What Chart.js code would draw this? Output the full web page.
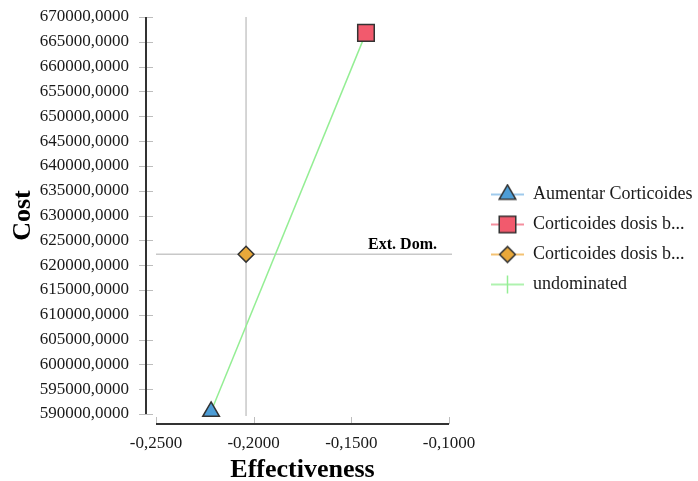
<!DOCTYPE html>
<html>
<head>
<meta charset="utf-8">
<script src="https://cdn.jsdelivr.net/npm/chart.js@4.4.0/dist/chart.umd.min.js"></script>
<style>
  html, body { margin: 0; padding: 0; background: #fff; }
</style>
</head>
<body>
<canvas id="ceChart" width="698" height="481"></canvas>
<script>
// strategies (legend names as shown, truncated in the original)
const strategyNames = ['Aumentar Corticoides', 'Corticoides dosis b...', 'Corticoides dosis b...'];
const effectiveness = [-0.2218, -0.1425, -0.2039];
const cost = [590500, 666800, 622200];
const undominatedPath = [0, 1];
const extDomIndex = 2;
const xTickValues = [-0.25, -0.2, -0.15, -0.1];
const yTickValues = [590000, 595000, 600000, 605000, 610000, 615000, 620000, 625000, 630000,
  635000, 640000, 645000, 650000, 655000, 660000, 665000, 670000];

const markerStyles = ['triangle', 'rect', 'rectRot'];
const markerSizes = [9.6, 11.7, 7.9];
const fillColors = ['#4d9dd6', '#f25a6d', '#e9a83a'];
const lineColors = ['#7fb8e6', '#f26a7e', '#f0ae45'];
const green = '#94ee94';
const edge = '#333333';
const serif = "'Liberation Serif', 'Times New Roman', serif";

function fmt(v) {
  return v.toFixed(4).replace('.', ',');
}

// small canvas used as legend symbol: line + marker
function legendIcon(style, r, fill, lineCol) {
  const c = document.createElement('canvas');
  c.width = 63;
  c.height = 22;
  const ctx = c.getContext('2d');
  const cx = 46.5, cy = 11;
  ctx.strokeStyle = lineCol;
  ctx.lineWidth = 1.5;
  ctx.beginPath();
  ctx.moveTo(30, cy);
  ctx.lineTo(63, cy);
  ctx.stroke();
  ctx.beginPath();
  if (style === 'triangle') {
    ctx.moveTo(cx, cy - r);
    ctx.lineTo(cx + 0.866 * r, cy + 0.5 * r);
    ctx.lineTo(cx - 0.866 * r, cy + 0.5 * r);
    ctx.closePath();
  } else if (style === 'rect') {
    const s = Math.SQRT1_2 * r;
    ctx.rect(cx - s, cy - s, 2 * s, 2 * s);
  } else if (style === 'rectRot') {
    ctx.moveTo(cx, cy - r);
    ctx.lineTo(cx + r, cy);
    ctx.lineTo(cx, cy + r);
    ctx.lineTo(cx - r, cy);
    ctx.closePath();
  } else {
    ctx.moveTo(cx, cy - 9);
    ctx.lineTo(cx, cy + 9);
    ctx.stroke();
    return c;
  }
  ctx.fillStyle = fill;
  ctx.fill();
  ctx.strokeStyle = edge;
  ctx.lineWidth = 1.5;
  ctx.stroke();
  return c;
}

const legendIcons = markerStyles.map((s, i) => legendIcon(s, markerSizes[i], fillColors[i], lineColors[i]));
legendIcons.push(legendIcon('cross', 0, green, green));

// datasets
const datasets = strategyNames.map((name, i) => ({
  label: name,
  data: [{x: effectiveness[i], y: cost[i]}],
  pointStyle: markerStyles[i],
  pointRadius: markerSizes[i],
  pointBackgroundColor: fillColors[i],
  pointBorderColor: edge,
  pointBorderWidth: 1.5,
  borderColor: lineColors[i],
  showLine: false,
  clip: false
}));
datasets.push({
  label: 'undominated',
  data: undominatedPath.map(i => ({x: effectiveness[i], y: cost[i]})),
  borderColor: green,
  borderWidth: 1.5,
  pointRadius: 0,
  showLine: true,
  clip: false
});

// grey lines through the extendedly dominated strategy
const extDomLines = {
  id: 'extDomLines',
  beforeDatasetsDraw(chart) {
    const {ctx, chartArea: a, scales: {x, y}} = chart;
    const px = x.getPixelForValue(effectiveness[extDomIndex]);
    const py = y.getPixelForValue(cost[extDomIndex]);
    ctx.save();
    ctx.strokeStyle = '#c8c8c8';
    ctx.lineWidth = 1.5;
    ctx.beginPath();
    ctx.moveTo(a.left, py);
    ctx.lineTo(a.right + 3, py);
    ctx.moveTo(px, a.top);
    ctx.lineTo(px, a.bottom + 2);
    ctx.stroke();
    ctx.fillStyle = '#000';
    ctx.font = 'bold 16px ' + serif;
    ctx.textAlign = 'right';
    ctx.textBaseline = 'alphabetic';
    ctx.fillText('Ext. Dom.', a.right - 12, py - 5);
    ctx.restore();
  }
};

// axis lines sit a bit away from the plot area
const offsetAxes = {
  id: 'offsetAxes',
  afterDraw(chart) {
    const {ctx, chartArea: a, scales: {x, y}} = chart;
    ctx.save();
    ctx.strokeStyle = '#bdbdbd';
    ctx.lineWidth = 1;
    ctx.beginPath();
    y.ticks.forEach(t => {
      const py = Math.round(y.getPixelForValue(t.value)) + 0.5;
      ctx.moveTo(a.left - 17, py);
      ctx.lineTo(a.left - 3, py);
    });
    x.ticks.forEach(t => {
      const px = Math.round(x.getPixelForValue(t.value)) + 0.5;
      ctx.moveTo(px, a.bottom + 3);
      ctx.lineTo(px, a.bottom + 10);
    });
    ctx.stroke();
    ctx.strokeStyle = edge;
    ctx.lineWidth = 2;
    ctx.beginPath();
    ctx.moveTo(a.left - 10, a.top);
    ctx.lineTo(a.left - 10, a.bottom);
    ctx.moveTo(a.left, a.bottom + 10);
    ctx.lineTo(a.right, a.bottom + 10);
    ctx.stroke();
    ctx.restore();
  }
};

Chart.defaults.font.family = serif;
Chart.defaults.color = '#1a1a1a';

const ceChart = new Chart(document.getElementById('ceChart'), {
  type: 'scatter',
  data: { datasets: datasets },
  options: {
    responsive: false,
    animation: false,
    devicePixelRatio: 1,
    events: [],
    layout: { padding: { top: 17, right: 0, bottom: 0, left: 0 } },
    scales: {
      x: {
        type: 'linear',
        min: -0.25,
        max: -0.1,
        afterBuildTicks: s => { s.ticks = xTickValues.map(v => ({value: v})); },
        afterFit: s => { s.height = 67; },
        grid: { display: false, drawTicks: false },
        border: { display: false },
        ticks: { padding: 19, font: { size: 17 }, maxRotation: 0, callback: v => fmt(v) },
        title: {
          display: true,
          text: 'Effectiveness',
          color: '#000',
          font: { size: 26, weight: 'bold', lineHeight: 0.8 },
          padding: { top: 0, bottom: 0 }
        }
      },
      y: {
        type: 'linear',
        min: 590000,
        max: 670000,
        afterBuildTicks: s => { s.ticks = yTickValues.map(v => ({value: v})); },
        afterFit: s => { s.width = 156; s.paddingTop = 0; s.paddingBottom = 0; },
        grid: { display: false, drawTicks: false },
        border: { display: false },
        ticks: { padding: 27, font: { size: 17 }, callback: v => fmt(v) },
        title: {
          display: true,
          text: 'Cost',
          color: '#000',
          font: { size: 26, weight: 'bold', lineHeight: 1 },
          padding: { top: 10.5, bottom: 0 }
        }
      }
    },
    plugins: {
      tooltip: { enabled: false },
      legend: {
        position: 'right',
        align: 'center',
        fullSize: false,
        maxWidth: 249,
        title: { display: true, text: '', font: { size: 10, lineHeight: 1.2 }, padding: { top: 36, bottom: 0 } },
        labels: {
          usePointStyle: true,
          pointStyleWidth: 63,
          padding: 12,
          color: '#1a1a1a',
          font: { size: 18 },
          generateLabels: chart => chart.data.datasets.map((ds, i) => ({
            text: ds.label,
            pointStyle: legendIcons[i],
            fillStyle: 'transparent',
            strokeStyle: 'transparent',
            lineWidth: 0,
            hidden: false,
            datasetIndex: i
          }))
        }
      }
    }
  },
  plugins: [extDomLines, offsetAxes]
});
</script>
</body>
</html>
